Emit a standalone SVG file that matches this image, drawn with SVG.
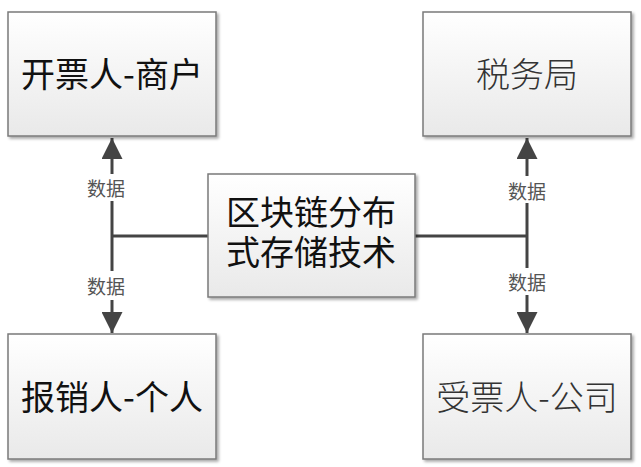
<svg xmlns="http://www.w3.org/2000/svg" width="641" height="467" viewBox="0 0 641 467">
<defs>
<linearGradient id="g" x1="0" y1="0" x2="0" y2="1">
<stop offset="0" stop-color="#ffffff"/>
<stop offset="1" stop-color="#e9e9e9"/>
</linearGradient>
<filter id="sh" x="-10%" y="-10%" width="125%" height="125%">
<feGaussianBlur in="SourceAlpha" stdDeviation="1.5"/>
<feOffset dx="2" dy="2" result="b"/>
<feComponentTransfer><feFuncA type="linear" slope="0.35"/></feComponentTransfer>
<feMerge><feMergeNode/><feMergeNode in="SourceGraphic"/></feMerge>
</filter>
<marker id="ah" viewBox="0 0 10 10" refX="10" refY="5" markerWidth="7" markerHeight="7" markerUnits="strokeWidth" orient="auto">
<path d="M0,0 L10,5 L0,10 z" fill="#444"/>
</marker>
</defs>
<style>
.box{fill:url(#g);stroke:#7a7a7a;stroke-width:1.5;filter:url(#sh)}
.t{font-family:"Noto Sans CJK SC","Noto Sans",sans-serif;font-size:34px;text-anchor:middle;dominant-baseline:central}
.c{font-family:"Liberation Sans","Noto Sans CJK SC",sans-serif}
.dark{fill:#111}
.light{fill:#333;font-weight:300}
.ln{stroke:#444;stroke-width:3;fill:none}
.lbl{font-family:"Noto Sans CJK SC","Noto Sans",sans-serif;font-size:19px;fill:#555;text-anchor:middle;dominant-baseline:central}
</style>
<rect width="641" height="467" fill="#fff"/>
<g id="connectors">
<line class="ln" x1="112" y1="236" x2="208" y2="236"/>
<line class="ln" x1="415" y1="236" x2="527" y2="236"/>
<line class="ln" x1="112" y1="236" x2="112" y2="138" marker-end="url(#ah)"/>
<line class="ln" x1="112" y1="236" x2="112" y2="333" marker-end="url(#ah)"/>
<line class="ln" x1="527" y1="236" x2="527" y2="138" marker-end="url(#ah)"/>
<line class="ln" x1="527" y1="236" x2="527" y2="333" marker-end="url(#ah)"/>
<rect x="90" y="174" width="44" height="27" fill="#fff"/>
<text class="lbl" x="106" y="187">数据</text>
<rect x="90" y="271" width="44" height="29" fill="#fff"/>
<text class="lbl" x="106" y="285">数据</text>
<rect x="505" y="176" width="44" height="27" fill="#fff"/>
<text class="lbl" x="527" y="190">数据</text>
<rect x="505" y="268" width="44" height="27" fill="#fff"/>
<text class="lbl" x="527" y="281">数据</text>
</g>
<g id="node-kaipiao">
<rect class="box" x="8" y="12" width="208" height="124"/>
<text class="t dark" x="112" y="72">开票人-商户</text>
</g>
<g id="node-shuiwu">
<rect class="box" x="423" y="12" width="208" height="124"/>
<text class="t light" x="527" y="72">税务局</text>
</g>
<g id="node-center">
<rect class="box" x="208" y="174" width="207" height="123"/>
<text class="t c dark" x="311" y="213"><tspan x="311" y="213">区块链分布</tspan><tspan x="311" y="253">式存储技术</tspan></text>
</g>
<g id="node-baoxiao">
<rect class="box" x="8" y="334" width="208" height="125"/>
<text class="t dark" x="112" y="395">报销人-个人</text>
</g>
<g id="node-shoupiao">
<rect class="box" x="423" y="334" width="208" height="125"/>
<text class="t light" x="527" y="395">受票人-公司</text>
</g>
</svg>
